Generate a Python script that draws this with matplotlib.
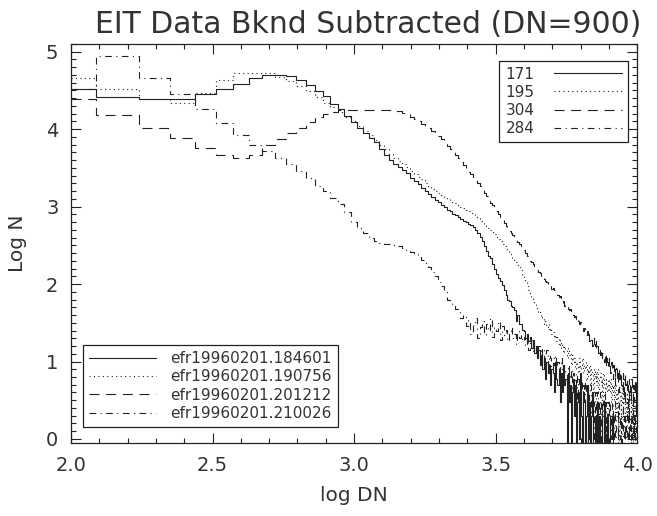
import matplotlib
matplotlib.use("Agg")
import matplotlib.pyplot as plt
import numpy as np
from matplotlib.lines import Line2D
from matplotlib.ticker import MultipleLocator

# Histogram bins: linear DN bins of width 50, centres 100 .. 10000
dn_start, dn_stop, dn_step = 100, 10000, 50

# log N per bin (-1 = empty bin, drawn below the frame)
logn_171 = [
    4.52, 4.42, 4.39, 4.39, 4.45, 4.52, 4.58, 4.66, 4.70, 4.70, 4.69, 4.63,
    4.57, 4.49, 4.43, 4.33, 4.26, 4.17, 4.09, 4.02, 3.95, 3.89, 3.83,
    3.74, 3.67, 3.60, 3.55, 3.51, 3.47, 3.43,
    3.37, 3.33, 3.29, 3.24, 3.20, 3.16, 3.12, 3.09,
    3.06, 3.02, 2.99, 2.96, 2.94, 2.91, 2.89, 2.87, 2.84, 2.82, 2.80,
    2.78, 2.76, 2.73, 2.70, 2.66, 2.61, 2.55, 2.49, 2.42, 2.36, 2.33, 2.26, 2.20,
    2.13, 2.08, 2.04, 1.99, 1.92, 1.86, 1.79, 1.78, 1.72, 1.70, 1.66, 1.52,
    1.60, 1.49, 1.48, 1.41,
    1.40, 1.30, 1.36, 1.26, 1.32, 1.18, 1.28, 1.11, 1.20, 1.04, 1.15, 0.95,
    1.08, 0.90, 1.04, 0.78, 1.00, 0.85, 0.95, 0.70, 0.90,
    0.85, 0.60, 1.00, 0.78, 0.70, 0.90, 0.48, 0.85, 0.60, 0.95, 0.70, 0.78,
    -1, 0.85, 0.48, 0.70, -1, 0.60, 0.78, 0.30, 0.70, -1, 0.48, 0.60, 0.00, 0.85,
    0.30, -1, 0.60, 0.48, -1, 0.30, 0.70, -1, 0.00, 0.48, -1, 0.30, 0.60, -1,
    -1, 0.30, 0.00, -1, 0.48, -1, 0.30, -1, 0.00, 0.30, -1, -1, 0.48, -1,
    0.00, -1, 0.30, -1,
    -1, -1, 0.30, 0.30, 0.00, 0.30, -1, -1, -1, -1, -1, -1, -1, -1,
    -1, -1, -1, -1, -1, -1, -1, -1, -1, -1, -1, -1, -1, -1,
    -1, -1, -1, -1, -1, -1, -1, -1, -1, -1, -1, -1, -1, -1,
]
logn_195 = [
    4.66, 4.52, 4.39, 4.34, 4.47, 4.63, 4.73, 4.73, 4.72, 4.67, 4.62, 4.56,
    4.49, 4.41, 4.34, 4.28, 4.22, 4.16, 4.10, 4.04, 3.98, 3.92, 3.86,
    3.80, 3.74, 3.68, 3.63, 3.59, 3.55, 3.51,
    3.46, 3.42, 3.38, 3.35, 3.31, 3.27, 3.23, 3.20,
    3.17, 3.15, 3.12, 3.10, 3.08, 3.06, 3.04, 3.02, 3.00, 2.98, 2.96,
    2.94, 2.92, 2.90, 2.87, 2.85, 2.82, 2.80, 2.77, 2.75, 2.72, 2.70, 2.67, 2.64,
    2.61, 2.58, 2.55, 2.52, 2.49, 2.46, 2.43, 2.40, 2.37, 2.34, 2.31, 2.28,
    2.24, 2.22, 2.19, 2.12,
    2.08, 2.02, 1.98, 1.92, 1.89, 1.82, 1.80, 1.74, 1.72, 1.68, 1.62, 1.64,
    1.56, 1.58, 1.49, 1.52, 1.45, 1.48, 1.40, 1.43, 1.36,
    1.38, 1.30, 1.34, 1.26, 1.32, 1.20, 1.28, 1.18, 1.23, 1.11, 1.20, 1.15,
    1.04, 1.18, 1.08, 1.11, 0.95, 1.08, 1.00, 1.04, 0.90, 1.00, 0.95, 0.85,
    1.04, 0.90,
    0.95, 1.04, 0.85, 0.95, 0.90, 1.00, 0.78, 0.90, 0.85, 0.95, 0.70, 0.90,
    0.85, 0.60, 0.90, 0.78, 0.85, 0.70, 0.90, 0.60, 0.78, 0.85, 0.70, 0.78,
    0.48, 0.85, 0.70, 0.60, 0.78, 0.70, 0.60, 0.78,
    0.70, 0.60, 0.78, 0.48, 0.70, 0.60, 0.70, 0.48, 0.60, 0.70, 0.30, 0.60,
    0.00, -1, 0.48, 0.60, -1, 0.48, 0.70, 0.30, 0.60, 0.48, 0.60, 0.30,
    0.48, 0.60, 0.30, 0.48, 0.30, 0.60, 0.48, 0.30, 0.48, 0.30, -1, 0.48,
    0.30, 0.00, 0.48, 0.30, 0.48, 0.30,
]
logn_304 = [
    4.39, 4.18, 4.01, 3.88, 3.76, 3.67, 3.63, 3.66, 3.80, 3.87, 3.95, 4.02,
    4.09, 4.15, 4.19, 4.22, 4.24, 4.25, 4.25, 4.25, 4.25, 4.24, 4.24,
    4.24, 4.24, 4.24, 4.23, 4.23, 4.21, 4.19,
    4.16, 4.13, 4.10, 4.07, 4.04, 4.01, 3.98, 3.95,
    3.91, 3.87, 3.82, 3.78, 3.74, 3.70, 3.67, 3.63, 3.58, 3.54, 3.49,
    3.45, 3.42, 3.38, 3.35, 3.31, 3.27, 3.22, 3.18, 3.14, 3.09, 3.05, 3.02, 2.98,
    2.94, 2.90, 2.87, 2.83, 2.79, 2.75, 2.72, 2.69, 2.66, 2.63, 2.60, 2.57,
    2.54, 2.52, 2.49, 2.47,
    2.44, 2.40, 2.36, 2.33, 2.30, 2.28, 2.26, 2.22, 2.20, 2.18, 2.16, 2.14,
    2.11, 2.12, 2.06, 2.04, 2.02, 2.00, 1.98, 1.99, 1.94,
    1.95, 1.92, 1.90, 1.88, 1.86, 1.83, 1.85, 1.79, 1.76, 1.78, 1.72, 1.74,
    1.70, 1.68, 1.66, 1.68, 1.62, 1.64, 1.60, 1.57, 1.59, 1.54, 1.56, 1.52,
    1.48, 1.51,
    1.48, 1.45, 1.40, 1.43, 1.38, 1.34, 1.40, 1.30, 1.36, 1.26, 1.32, 1.28,
    1.20, 1.30, 1.23, 1.18, 1.26, 1.15, 1.20, 1.11, 1.18, 1.08, 1.15, 1.04,
    1.11, 1.08, 1.00, 1.11, 0.95, 1.04, 1.00, 0.90,
    1.04, 0.95, 0.85, 1.00, 0.90, 0.78, 0.95, 0.85, 0.70, 0.90, 0.95, 0.78,
    0.85, 0.60, 0.90, 0.78, 0.85, 0.70, 0.60, 0.85, 0.78, 0.48, 0.85, 0.70,
    0.78, 0.60, 0.70, 0.30, 0.78, 0.60, 0.70, 0.48, 0.78, 0.60, 0.30, 0.70,
    0.48, 0.60, 0.78, 0.30, 0.60, 0.48,
]
logn_284 = [
    4.52, 4.94, 4.66, 4.45, 4.26, 4.08, 3.92, 3.80, 3.72, 3.63, 3.55, 3.46,
    3.37, 3.26, 3.20, 3.11, 3.03, 2.93, 2.80, 2.72, 2.66, 2.60, 2.55,
    2.53, 2.52, 2.52, 2.50, 2.49, 2.47, 2.44,
    2.41, 2.39, 2.35, 2.31, 2.27, 2.22, 2.16, 2.11,
    2.03, 1.97, 1.90, 1.80, 1.76, 1.72, 1.68, 1.65, 1.56, 1.60, 1.46,
    1.54, 1.36, 1.48, 1.56, 1.30, 1.45, 1.52, 1.34, 1.49, 1.40, 1.56, 1.32, 1.45,
    1.40, 1.52, 1.28, 1.46, 1.34, 1.41, 1.26, 1.38, 1.45, 1.30, 1.36, 1.23,
    1.40, 1.30, 1.34, 1.26,
    1.32, 1.20, 1.30, 1.15, 1.26, 1.28, 1.11, 1.23, 1.18, 1.04, 1.20, 1.15,
    1.08, 1.18, 1.00, 1.11, 1.15, 0.95, 1.08, 1.04, 0.90,
    1.04, 0.95, 1.08, 0.90, 1.00, 0.85, 0.95, 1.04, 0.78, 0.95, 0.90, 0.85,
    0.70, 0.95, 0.85, 0.78, 0.90, 0.60, 0.85, 0.78, 0.70, 0.85, 0.48, 0.78,
    0.70, 0.60,
    0.78, 0.60, 0.70, 0.48, 0.78, 0.60, 0.30, 0.70, 0.48, 0.60, 0.70, 0.30,
    0.60, 0.48, 0.00, 0.60, 0.48, 0.30, 0.60, 0.48, 0.30, 0.60, 0.00, 0.48,
    0.30, 0.48, 0.60, 0.30, -1, 0.48, 0.30, 0.48,
    0.30, 0.48, 0.00, 0.30, 0.48, 0.30, -1, 0.30, 0.48, 0.00, 0.30, 0.30,
    -1, 0.48, 0.30, 0.00, 0.30, -1, 0.30, 0.48, 0.00, 0.30, -1, 0.30,
    0.00, 0.30, 0.48, -1, 0.30, 0.00, 0.30, -1, 0.30, 0.00, -1, 0.30,
    0.00, 0.30, -1, 0.00, 0.30, -1,
]

wavelengths = ["171", "195", "304", "284"]
files = ["efr19960201.184601", "efr19960201.190756",
         "efr19960201.201212", "efr19960201.210026"]
# IDL-like line styles: solid, dotted, dashed, dash-dot
styles = ["-", (0, (1, 3)), (0, (9, 6)), (0, (6, 4, 1, 4))]

INK = "#222222"
TXT = "#333333"

dn = np.arange(dn_start, dn_stop + 1, dn_step)
logdn = np.log10(dn)
series = [logn_171, logn_195, logn_304, logn_284]
for s in series:
    assert len(s) == len(dn), len(s)

fig = plt.figure(figsize=(6.57, 5.16), dpi=100)
ax = fig.add_axes([0.108, 0.141, 0.862, 0.774])

for vals, ls in zip(series, styles):
    ax.step(logdn, vals, where="mid", color=INK, lw=0.8, ls=ls)

ax.set_xlim(2.0, 4.0)
ax.set_ylim(-0.055, 5.10)
ax.xaxis.set_major_locator(MultipleLocator(0.5))
ax.xaxis.set_minor_locator(MultipleLocator(0.1))
ax.yaxis.set_major_locator(MultipleLocator(1))
ax.yaxis.set_minor_locator(MultipleLocator(0.1))
ax.xaxis.set_major_formatter(plt.FormatStrFormatter("%.1f"))
ax.tick_params(which="both", direction="in", top=True, right=True,
               colors=INK, labelcolor=TXT, labelsize=14, width=0.8)
ax.tick_params(which="major", length=7, pad=9)
ax.tick_params(which="minor", length=3.5)
for sp in ax.spines.values():
    sp.set_linewidth(0.9)
    sp.set_color(INK)

ax.set_xlabel("log DN", fontsize=14.5, color=TXT, labelpad=8)
ax.set_ylabel("Log N", fontsize=14.5, color=TXT, labelpad=14)
ax.set_title("EIT Data Bknd Subtracted (DN=900)", fontsize=21.5, color=TXT,
             pad=8, x=0.525)

handles = [Line2D([], [], color=INK, lw=0.8, ls=ls) for ls in styles]
leg1 = ax.legend(handles, wavelengths, loc="upper right", bbox_to_anchor=(0.983, 0.958),
                 markerfirst=False, fontsize=11, handlelength=4.4, fancybox=False,
                 edgecolor=INK, framealpha=1, borderpad=0.4, labelspacing=0.2,
                 handletextpad=1.3, borderaxespad=0)
leg1.get_frame().set_linewidth(0.9)
for t in leg1.get_texts():
    t.set_color(TXT)
ax.add_artist(leg1)

leg2 = ax.legend(handles, files, loc="lower left", bbox_to_anchor=(0.021, 0.04),
                 fontsize=11, handlelength=4.4, fancybox=False, edgecolor=INK,
                 framealpha=1, borderpad=0.4, labelspacing=0.22, handletextpad=0.9,
                 borderaxespad=0)
leg2.get_frame().set_linewidth(0.9)
for t in leg2.get_texts():
    t.set_color(TXT)

fig.savefig("out.png", dpi=100, facecolor="white")
